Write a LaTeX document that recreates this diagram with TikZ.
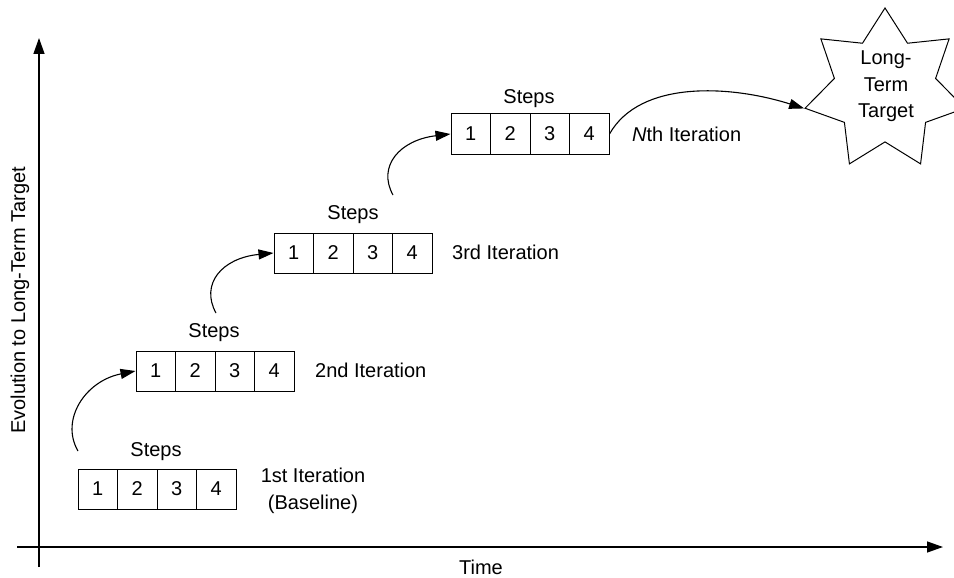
\documentclass[tikz,border=0pt]{standalone}
\usepackage{fontspec}
\setmainfont{Liberation Sans}
\usetikzlibrary{arrows.meta,shapes.geometric}
\tikzset{
  lbl/.style={font=\fontsize{20}{27}\selectfont, inner sep=0pt},
  cell/.style={draw, line width=1pt, minimum width=39.5pt, minimum height=40pt, inner sep=0pt, font=\fontsize{20}{24}\selectfont},
  axis/.style={line width=1.3pt, -{Triangle[length=16pt,width=11pt]}},
  conn/.style={line width=1.1pt, -{Triangle[length=15pt,width=10pt]}},
}
\begin{document}
\begin{tikzpicture}[x=1pt,y=-1pt]
\useasboundingbox (0,0) rectangle (954,578);
% axes
\coordinate (yb) at (39,567);
\coordinate (yt) at (39,38);
\coordinate (xl) at (17,547);
\coordinate (xr) at (943,547);
\draw[axis] (yb) -- (yt);
\draw[axis] (xl) -- (xr);
\node[lbl, rotate=90, anchor=base west] (ylab) at (25,434) {Evolution to Long-Term Target};
\node[lbl, anchor=base] (xlab) at (481,574) {Time};
% step boxes
\foreach \n/\x/\y in {1/78/469, 2/136/351, 3/274/233, N/451/114}{
  \foreach \i in {1,...,4}{
    \node[cell] (b\n-\i) at ({\x+39.5*(\i-0.5)},{\y+20}) {\i};
  }
}
% Steps labels
\node[lbl, anchor=base] (st1) at (156,456) {Steps};
\node[lbl, anchor=base] (st2) at (214,337) {Steps};
\node[lbl, anchor=base] (st3) at (353,219) {Steps};
\node[lbl, anchor=base] (stN) at (529,103) {Steps};
% iteration labels
\node[lbl, align=center] (it1) at (313,490.5) {1st Iteration\\(Baseline)};
\node[lbl, anchor=base west] (it2) at (315,377) {2nd Iteration};
\node[lbl, anchor=base west] (it3) at (452,259) {3rd Iteration};
\node[lbl, anchor=base west] (itN) at (632,142) {\textit{N}th Iteration};
% star
\node[star, star points=7, star point ratio=1.58, minimum size=164pt, inner sep=0pt, draw, line width=1pt] (star) at (885,90) {};
\node[lbl, align=center, font=\fontsize{20}{26.5}\selectfont] (startxt) at (886,86.5) {Long-\\Term\\Target};
% connectors
\coordinate (s1) at (78,451);
\coordinate (s2) at (216,313);
\coordinate (s3) at (393,195);
\draw[conn] (s1) .. controls (60,420) and (85,381) .. (b2-1.west);
\draw[conn] (s2) .. controls (200,284) and (222,258) .. (b3-1.west);
\draw[conn] (s3) .. controls (377,166) and (400,140) .. (bN-1.west);
\draw[conn] (bN-4.east) .. controls (640,80) and (730,85) .. (star.outer point 3);
\end{tikzpicture}
\end{document}
